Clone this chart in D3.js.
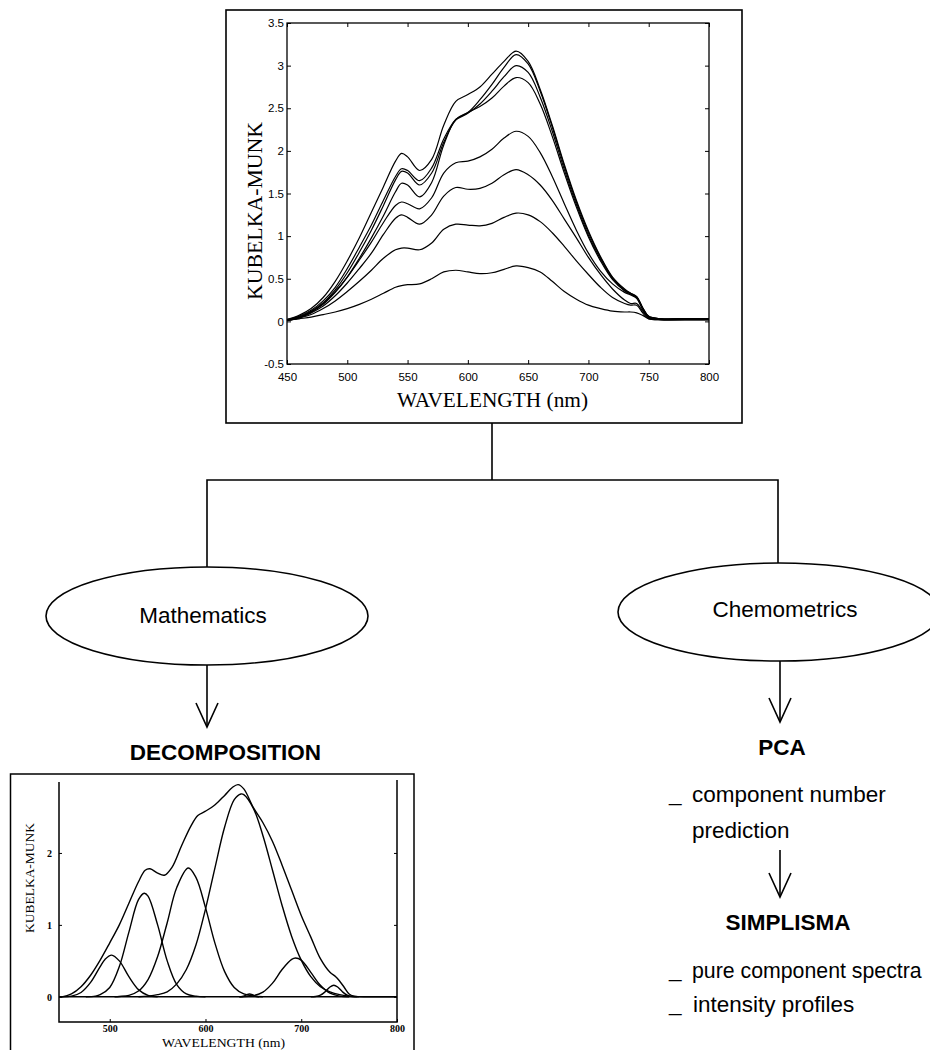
<!DOCTYPE html>
<html>
<head>
<meta charset="utf-8">
<script src="https://cdn.jsdelivr.net/npm/d3@7"></script>
<style>
  body { margin: 0; background: #fff; }
  svg { display: block; }
</style>
</head>
<body>
<svg id="figure" width="930" height="1050"></svg>
<script>
// spectra (Kubelka-Munk units)
const wavelengths = [450, 460, 470, 480, 490, 500, 510, 520, 530, 540, 545, 550, 560, 570, 580, 590, 600, 610, 620, 630, 640, 650, 660, 670, 680, 690, 700, 710, 720, 730, 735, 740, 745, 750, 760, 780, 800];

const spectrumA = [0.02, 0.07, 0.15, 0.28, 0.47, 0.71, 0.98, 1.28, 1.58, 1.88, 1.97, 1.93, 1.77, 1.90, 2.30, 2.58, 2.66, 2.75, 2.90, 3.05, 3.17, 3.05, 2.72, 2.30, 1.84, 1.42, 1.06, 0.76, 0.52, 0.38, 0.33, 0.29, 0.16, 0.06, 0.03, 0.03, 0.03];
const spectrumB = [0.02, 0.06, 0.13, 0.24, 0.40, 0.62, 0.87, 1.13, 1.42, 1.70, 1.79, 1.77, 1.65, 1.80, 2.14, 2.37, 2.45, 2.60, 2.78, 2.98, 3.13, 3.02, 2.70, 2.28, 1.82, 1.40, 1.04, 0.75, 0.51, 0.37, 0.33, 0.29, 0.16, 0.06, 0.03, 0.03, 0.03];
const spectrumC = [0.02, 0.05, 0.12, 0.22, 0.37, 0.57, 0.81, 1.07, 1.36, 1.66, 1.76, 1.74, 1.60, 1.74, 2.10, 2.36, 2.44, 2.55, 2.70, 2.87, 3.00, 2.92, 2.63, 2.23, 1.78, 1.37, 1.01, 0.73, 0.50, 0.36, 0.32, 0.28, 0.15, 0.05, 0.03, 0.03, 0.03];
const spectrumD = [0.02, 0.05, 0.11, 0.20, 0.34, 0.52, 0.74, 0.98, 1.24, 1.52, 1.62, 1.60, 1.46, 1.63, 2.07, 2.37, 2.45, 2.52, 2.62, 2.76, 2.86, 2.80, 2.55, 2.17, 1.74, 1.34, 0.99, 0.71, 0.49, 0.36, 0.32, 0.28, 0.15, 0.05, 0.03, 0.03, 0.03];
const spectrumE = [0.01, 0.04, 0.11, 0.21, 0.35, 0.52, 0.72, 0.93, 1.16, 1.36, 1.40, 1.38, 1.32, 1.45, 1.74, 1.86, 1.88, 1.93, 2.02, 2.15, 2.23, 2.17, 1.98, 1.70, 1.38, 1.07, 0.80, 0.59, 0.44, 0.34, 0.31, 0.27, 0.14, 0.05, 0.02, 0.02, 0.02];
const spectrumF = [0.01, 0.04, 0.10, 0.18, 0.30, 0.45, 0.62, 0.80, 1.02, 1.21, 1.25, 1.22, 1.14, 1.25, 1.47, 1.57, 1.55, 1.56, 1.62, 1.72, 1.78, 1.72, 1.60, 1.42, 1.20, 0.98, 0.75, 0.55, 0.38, 0.25, 0.21, 0.21, 0.12, 0.04, 0.02, 0.02, 0.02];
const spectrumG = [0.01, 0.04, 0.08, 0.15, 0.24, 0.35, 0.47, 0.60, 0.74, 0.84, 0.86, 0.86, 0.84, 0.92, 1.08, 1.14, 1.13, 1.12, 1.15, 1.22, 1.27, 1.25, 1.17, 1.04, 0.88, 0.71, 0.55, 0.40, 0.28, 0.21, 0.19, 0.19, 0.10, 0.03, 0.02, 0.02, 0.02];
const spectrumH = [0.01, 0.03, 0.05, 0.08, 0.11, 0.15, 0.20, 0.26, 0.33, 0.40, 0.42, 0.43, 0.44, 0.50, 0.58, 0.60, 0.58, 0.56, 0.57, 0.61, 0.65, 0.63, 0.58, 0.47, 0.35, 0.26, 0.19, 0.15, 0.12, 0.11, 0.11, 0.10, 0.07, 0.03, 0.02, 0.02, 0.02];

const xTicksTop = [450, 500, 550, 600, 650, 700, 750, 800];
const yTicksTop = [-0.5, 0, 0.5, 1, 1.5, 2, 2.5, 3, 3.5];

// decomposition: measured envelope + fitted bands, [nm, value]
const envelopePoints = [[447, 0], [450, 0], [460, 0.04], [470, 0.14], [480, 0.30], [490, 0.51], [500, 0.75], [510, 1.00], [520, 1.30], [530, 1.60], [537, 1.76], [542, 1.78], [550, 1.72], [557, 1.69], [565, 1.80], [575, 2.10], [585, 2.38], [592, 2.52], [600, 2.58], [610, 2.67], [620, 2.80], [628, 2.91], [634, 2.95], [640, 2.89], [650, 2.63], [660, 2.42], [670, 2.16], [680, 1.83], [690, 1.48], [700, 1.13], [710, 0.83], [720, 0.53], [730, 0.34], [736, 0.28], [740, 0.22], [745, 0.13], [750, 0.04], [755, 0.01], [770, 0], [800, 0]];
const band1Points = [[450, 0], [460, 0.01], [470, 0.06], [480, 0.20], [490, 0.42], [495, 0.52], [502, 0.58], [510, 0.50], [520, 0.28], [530, 0.10], [540, 0.02], [550, 0]];
const band2Points = [[475, 0], [485, 0.01], [490, 0.03], [500, 0.13], [510, 0.42], [520, 0.90], [530, 1.35], [536, 1.44], [540, 1.40], [550, 1.00], [560, 0.50], [570, 0.17], [580, 0.04], [590, 0.01], [600, 0]];
const band3Points = [[505, 0], [510, 0.005], [520, 0.02], [530, 0.08], [540, 0.24], [550, 0.56], [560, 1.03], [570, 1.52], [582, 1.79], [590, 1.66], [600, 1.24], [610, 0.74], [620, 0.35], [630, 0.13], [640, 0.04], [650, 0.01], [660, 0]];
const band4Points = [[530, 0], [540, 0.01], [550, 0.03], [560, 0.07], [570, 0.18], [580, 0.38], [590, 0.72], [600, 1.22], [610, 1.80], [620, 2.36], [630, 2.74], [637, 2.82], [640, 2.81], [650, 2.62], [660, 2.24], [670, 1.76], [680, 1.27], [690, 0.84], [700, 0.51], [710, 0.28], [720, 0.14], [730, 0.07], [740, 0.03], [750, 0.01], [760, 0]];
const band5Points = [[635, 0], [645, 0.008], [650, 0.015], [660, 0.065], [670, 0.19], [680, 0.38], [690, 0.52], [694, 0.54], [700, 0.51], [710, 0.34], [720, 0.16], [730, 0.05], [740, 0.01], [750, 0]];
const band6Points = [[710, 0], [715, 0.004], [720, 0.022], [725, 0.07], [730, 0.136], [734, 0.16], [738, 0.136], [743, 0.07], [748, 0.022], [753, 0.004], [758, 0]];
const band7Points = [[636, 0], [640, 0.01], [643, 0.03], [646, 0.04], [649, 0.03], [652, 0.01], [656, 0]];

const xTicksBottom = [500, 600, 700, 800];
const yTicksBottom = [0, 1, 2];

class SpectraFigure {
  constructor({ el }) {
    this.el = el;
    this.init();
  }

  init() {
    this.svg = d3.select(this.el);
    this.svg.append("rect").attr("width", 930).attr("height", 1050).attr("fill", "#fff");
    this.renderTopChart();
    this.renderFlow();
    this.renderBottomChart();
  }

  renderTopChart() {
    const g = this.svg.append("g").attr("class", "top-chart");
    const x = d3.scaleLinear().domain([450, 800]).range([287, 709]);
    const y = d3.scaleLinear().domain([-0.5, 3.5]).range([364, 23]);

    g.append("rect")
      .attr("x", 226).attr("y", 10).attr("width", 516).attr("height", 413)
      .attr("fill", "none").attr("stroke", "#000").attr("stroke-width", 1.6);

    const tickFont = (sel) =>
      sel.selectAll("text")
        .attr("fill", "#000")
        .attr("font-family", "'Liberation Sans', Arial, sans-serif")
        .attr("font-size", 11.5);
    const cleanAxis = (sel) => {
      sel.select(".domain").remove();
      sel.selectAll("line").attr("stroke", "#000");
    };

    g.append("g").attr("transform", "translate(0,364)")
      .call(d3.axisBottom(x).tickValues(xTicksTop).tickSizeInner(-4).tickSizeOuter(0).tickPadding(9).tickFormat(d3.format("d")))
      .call(cleanAxis).call(tickFont);
    g.append("g").attr("transform", "translate(0,23)")
      .call(d3.axisTop(x).tickValues(xTicksTop).tickSizeInner(-4).tickSizeOuter(0).tickFormat(""))
      .call(cleanAxis);
    g.append("g").attr("transform", "translate(287,0)")
      .call(d3.axisLeft(y).tickValues(yTicksTop).tickSizeInner(-4).tickSizeOuter(0).tickPadding(3).tickFormat((d) => String(d)))
      .call(cleanAxis).call(tickFont);
    g.append("g").attr("transform", "translate(709,0)")
      .call(d3.axisRight(y).tickValues(yTicksTop).tickSizeInner(-4).tickSizeOuter(0).tickFormat(""))
      .call(cleanAxis);

    g.append("rect")
      .attr("x", x(450)).attr("y", y(3.5))
      .attr("width", x(800) - x(450)).attr("height", y(-0.5) - y(3.5))
      .attr("fill", "none").attr("stroke", "#000").attr("stroke-width", 1.3);

    const line = d3.line()
      .x((d, i) => x(wavelengths[i]))
      .y((d) => y(d))
      .curve(d3.curveCatmullRom);

    g.append("g")
      .attr("fill", "none").attr("stroke", "#000").attr("stroke-width", 1.2)
      .selectAll(".spectrum")
      .data([spectrumA, spectrumB, spectrumC, spectrumD, spectrumE, spectrumF, spectrumG, spectrumH])
      .join("path")
      .attr("class", "spectrum")
      .attr("d", line);

    g.append("text")
      .attr("transform", "translate(262,211) rotate(-90)")
      .attr("text-anchor", "middle")
      .attr("font-family", "'Liberation Serif', 'Times New Roman', serif")
      .attr("font-size", 21)
      .attr("textLength", 178).attr("lengthAdjust", "spacingAndGlyphs")
      .text("KUBELKA-MUNK");

    g.append("text")
      .attr("x", 492.5).attr("y", 407)
      .attr("text-anchor", "middle")
      .attr("font-family", "'Liberation Serif', 'Times New Roman', serif")
      .attr("font-size", 21)
      .attr("textLength", 191).attr("lengthAdjust", "spacingAndGlyphs")
      .text("WAVELENGTH (nm)");
  }

  renderFlow() {
    const g = this.svg.append("g").attr("class", "flow")
      .attr("stroke", "#000").attr("stroke-width", 1.6).attr("fill", "none");

    const path = (pts) => g.append("path").attr("d", d3.line()(pts));
    const arrow = (xPos, y0, y1) => {
      path([[xPos, y0], [xPos, y1]]);
      path([[xPos - 11, y1 - 24], [xPos, y1], [xPos + 11, y1 - 24]]);
    };

    path([[492, 423], [492, 480]]);
    path([[207, 567], [207, 480], [778, 480], [778, 563]]);

    g.append("ellipse").attr("cx", 207).attr("cy", 616).attr("rx", 161).attr("ry", 49);
    g.append("ellipse").attr("cx", 779).attr("cy", 612).attr("rx", 161).attr("ry", 49);

    arrow(207, 665, 727);
    arrow(780, 661, 722);
    arrow(780, 850, 897);

    const t = this.svg.append("g")
      .attr("font-family", "'Liberation Sans', Arial, sans-serif")
      .attr("font-size", 22.5)
      .attr("fill", "#000");
    const label = (txt, xPos, yPos, opts = {}) =>
      t.append("text")
        .attr("x", xPos).attr("y", yPos)
        .attr("text-anchor", opts.anchor || "start")
        .attr("font-weight", opts.bold ? "bold" : null)
        .attr("font-size", opts.size || null)
        .text(txt);

    label("Mathematics", 203, 623, { anchor: "middle" });
    label("Chemometrics", 785, 617, { anchor: "middle" });
    label("DECOMPOSITION", 225.5, 760, { anchor: "middle", bold: true });
    label("PCA", 782, 755, { anchor: "middle", bold: true });
    label("_", 669, 801);
    label("component number", 692, 802);
    label("prediction", 692, 838);
    label("SIMPLISMA", 788, 930, { anchor: "middle", bold: true });
    label("_", 669, 977);
    label("pure component spectra", 692, 978, { size: 21.3 });
    label("_", 669, 1011);
    label("intensity profiles", 693, 1012);
  }

  renderBottomChart() {
    const g = this.svg.append("g").attr("class", "bottom-chart");
    const x = d3.scaleLinear().domain([447, 800]).range([59, 397]);
    const y = d3.scaleLinear().domain([-0.35, 3.0]).range([1022, 781]);

    g.append("rect")
      .attr("x", 10.5).attr("y", 774).attr("width", 403.5).attr("height", 300)
      .attr("fill", "none").attr("stroke", "#000").attr("stroke-width", 1.5);

    const serifBold = (sel) =>
      sel.selectAll("text")
        .attr("fill", "#000")
        .attr("font-family", "'Liberation Serif', 'Times New Roman', serif")
        .attr("font-weight", "bold")
        .attr("font-size", 10);
    const cleanAxis = (sel) => {
      sel.select(".domain").remove();
      sel.selectAll("line").attr("stroke", "#000");
    };

    g.append("g").attr("transform", "translate(0,1022)")
      .call(d3.axisBottom(x).tickValues(xTicksBottom).tickSizeInner(-3).tickSizeOuter(0).tickPadding(3).tickFormat(d3.format("d")))
      .call(cleanAxis).call(serifBold);
    g.append("g").attr("transform", "translate(59,0)")
      .call(d3.axisLeft(y).tickValues(yTicksBottom).tickSizeInner(-3).tickSizeOuter(0).tickPadding(7).tickFormat(d3.format("d")))
      .call(cleanAxis).call(serifBold);
    g.append("g").attr("transform", "translate(397,0)")
      .call(d3.axisRight(y).tickValues(yTicksBottom).tickSizeInner(-3).tickSizeOuter(0).tickFormat(""))
      .call(cleanAxis);

    const frame = g.append("g").attr("stroke", "#000").attr("fill", "none");
    frame.append("path").attr("stroke-width", 1.5)
      .attr("d", d3.line()([[x(447), 782], [x(447), y(-0.35)], [x(800), y(-0.35)], [x(800), 780]]));
    frame.append("path").attr("stroke-width", 1.6)
      .attr("d", d3.line()([[x(447), y(0)], [x(800), y(0)]]));

    const line = d3.line()
      .x((d) => x(d[0]))
      .y((d) => y(d[1]))
      .curve(d3.curveCatmullRom);

    g.append("g")
      .attr("fill", "none").attr("stroke", "#000").attr("stroke-width", 1.4)
      .selectAll(".band")
      .data([envelopePoints, band1Points, band2Points, band3Points, band4Points, band5Points, band6Points, band7Points])
      .join("path")
      .attr("class", "band")
      .attr("d", line);

    g.append("text")
      .attr("transform", "translate(33.5,878) rotate(-90)")
      .attr("text-anchor", "middle")
      .attr("font-family", "'Liberation Serif', 'Times New Roman', serif")
      .attr("font-size", 12)
      .attr("textLength", 110).attr("lengthAdjust", "spacingAndGlyphs")
      .text("KUBELKA-MUNK");

    g.append("text")
      .attr("x", 223.5).attr("y", 1047)
      .attr("text-anchor", "middle")
      .attr("font-family", "'Liberation Serif', 'Times New Roman', serif")
      .attr("font-size", 13.5)
      .attr("textLength", 123).attr("lengthAdjust", "spacingAndGlyphs")
      .text("WAVELENGTH (nm)");
  }
}

new SpectraFigure({ el: document.getElementById("figure") });
</script>
</body>
</html>
